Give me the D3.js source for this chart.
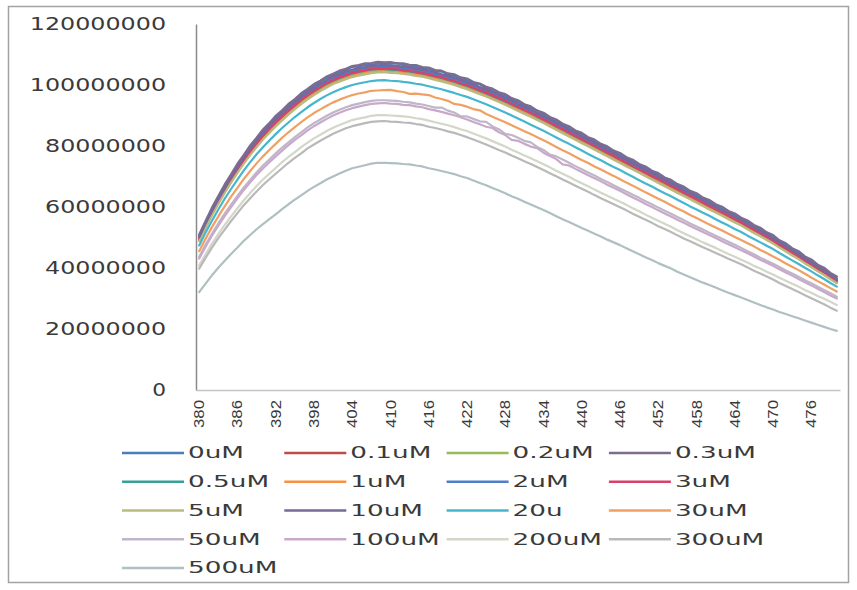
<!DOCTYPE html>
<html><head><meta charset="utf-8">
<script src="https://cdn.jsdelivr.net/npm/d3@7"></script>
<style>
html,body{margin:0;padding:0;background:#fff;}
svg{display:block;}
</style></head><body>
<svg id="chart" width="857" height="590"></svg>
<script>
// ---------- data ----------
const wavelengths = [380,381,382,383,384,385,386,387,388,389,
390,391,392,393,394,395,396,397,398,399,
400,401,402,403,404,405,406,407,408,409,
410,411,412,413,414,415,416,417,418,419,
420,421,422,423,424,425,426,427,428,429,
430,431,432,433,434,435,436,437,438,439,
440,441,442,443,444,445,446,447,448,449,
450,451,452,453,454,455,456,457,458,459,
460,461,462,463,464,465,466,467,468,469,
470,471,472,473,474,475,476,477,478,479,
480];
const xTickLabels = ["380","386","392","398","404","410","416","422","428","434","440","446","452","458","464","470","476"];
const yTickValues = [0,20000000,40000000,60000000,80000000,100000000,120000000];
const seriesNames = ["0uM","0.1uM","0.2uM","0.3uM","0.5uM","1uM","2uM","3uM","5uM","10uM","20u","30uM","50uM","100uM","200uM","300uM","500uM"];
const seriesColors = ["#4A7EBB","#BE4B48","#98B954","#7D6C8E","#35A19A","#F59342","#4F7FC8","#D8416A","#B8BC80","#76699A","#45B6CE","#EFA062","#BFB6C9","#C9A9C9","#D3D7C8","#B9B9B9","#AFBFC2"];

// values in millions
const v0uM = [50.5,55.0,59.2,63.1,66.8,70.3,73.6,76.7,79.6,82.3,
84.8,87.1,89.3,91.3,93.2,95.0,96.7,98.3,99.7,101.3,
102.2,103.3,104.1,104.9,105.9,106.1,106.5,106.6,107.0,107.1,
106.9,107.2,106.5,106.0,105.9,105.6,105.1,104.6,104.4,103.5,
102.9,102.2,101.5,100.7,100.2,99.1,98.2,97.0,96.4,95.4,
94.4,93.4,92.4,91.6,90.3,89.2,88.1,87.0,85.9,84.8,
83.7,82.6,81.5,80.4,79.3,78.2,77.1,76.0,74.9,73.8,
72.7,71.6,70.5,69.4,68.3,67.2,66.1,65.0,63.9,62.8,
61.7,60.6,59.5,58.4,57.3,56.2,55.0,53.8,52.6,51.4,
50.2,48.8,47.5,46.2,44.9,43.5,42.2,40.8,39.5,38.1,
36.7];
const v0_1uM = [49.9,54.4,58.5,62.4,66.1,69.5,72.8,75.9,78.7,81.5,
83.9,86.2,88.4,90.4,92.2,94.1,95.6,97.4,98.7,100.1,
101.2,102.4,103.1,104.0,104.6,105.2,105.4,106.0,105.9,106.2,
105.8,105.9,105.4,105.4,104.8,104.7,104.0,103.7,103.0,102.6,
101.8,101.3,100.4,99.8,98.8,98.2,97.1,96.4,95.3,94.5,
93.3,92.5,91.3,90.4,89.2,88.3,87.0,86.1,84.8,83.9,
82.6,81.7,80.4,79.5,78.2,77.3,76.1,75.1,73.9,73.0,
71.7,70.8,69.6,68.6,67.4,66.4,65.2,64.2,63.1,62.0,
60.9,59.8,58.7,57.7,56.5,55.5,54.2,53.1,51.9,50.7,
49.5,48.1,46.8,45.6,44.3,42.9,41.6,40.3,39.0,37.6,
36.2];
const v0_2uM = [49.4,53.9,57.9,61.8,65.4,68.8,72.1,75.1,78.0,80.6,
83.1,85.4,87.6,89.5,91.4,93.2,94.8,96.4,97.9,99.1,
100.3,101.5,102.2,103.1,103.7,104.3,104.6,105.1,105.2,105.4,
105.1,105.0,104.6,104.5,104.0,103.8,103.2,102.8,102.2,101.7,
101.0,100.4,99.6,98.9,98.0,97.3,96.3,95.5,94.5,93.6,
92.5,91.6,90.5,89.5,88.4,87.4,86.3,85.2,84.1,83.0,
81.9,80.8,79.7,78.6,77.5,76.4,75.3,74.2,73.1,72.0,
70.9,69.8,68.7,67.6,66.5,65.4,64.3,63.2,62.1,61.0,
60.0,58.9,57.8,56.7,55.7,54.6,53.4,52.2,51.1,49.9,
48.7,47.4,46.1,44.9,43.6,42.3,41.0,39.7,38.4,37.1,
35.7];
const v0_3uM = [51.0,55.4,59.8,63.6,67.4,70.7,74.2,77.1,80.2,82.7,
85.4,87.5,89.9,91.7,93.8,95.4,97.3,98.7,100.3,101.4,
102.8,103.7,104.7,105.3,106.2,106.5,107.1,107.2,107.6,107.4,
107.5,107.1,107.1,106.6,106.5,105.9,105.7,104.9,104.7,103.8,
103.5,102.5,102.1,101.0,100.5,99.4,98.8,97.6,97.0,95.7,
95.0,93.7,93.0,91.6,90.9,89.5,88.7,87.3,86.5,85.1,
84.3,82.9,82.1,80.7,79.9,78.5,77.7,76.3,75.5,74.1,
73.3,71.9,71.1,69.7,68.9,67.5,66.7,65.3,64.5,63.1,
62.3,60.9,60.1,58.7,57.9,56.5,55.6,54.1,53.2,51.7,
50.8,49.1,48.1,46.5,45.5,43.8,42.8,41.1,40.1,38.4,
37.2];
const v0_5uM = [49.3,53.7,57.8,61.6,65.2,68.6,71.9,74.9,77.7,80.4,
82.8,85.1,87.2,89.2,91.1,92.9,94.5,96.1,97.5,98.8,
100.0,101.1,101.9,102.7,103.5,103.9,104.4,104.8,104.9,105.0,
104.8,104.7,104.4,104.2,103.8,103.5,103.0,102.5,102.0,101.4,
100.8,100.1,99.4,98.6,97.8,97.0,96.1,95.2,94.3,93.3,
92.3,91.3,90.3,89.3,88.3,87.2,86.1,85.0,83.9,82.8,
81.7,80.6,79.5,78.4,77.3,76.3,75.2,74.1,73.0,71.9,
70.8,69.7,68.6,67.5,66.4,65.4,64.3,63.2,62.1,61.0,
59.9,58.8,57.8,56.7,55.6,54.5,53.3,52.2,51.0,49.8,
48.6,47.3,46.0,44.7,43.4,42.1,40.8,39.4,38.2,36.8,
35.4];
const v1uM = [49.0,53.4,57.5,61.3,64.9,68.2,71.5,74.5,77.3,79.9,
82.4,84.6,86.8,88.7,90.6,92.4,94.1,95.7,97.1,98.3,
99.6,100.6,101.5,102.3,103.0,103.5,103.9,104.3,104.5,104.5,
104.3,104.2,103.9,103.7,103.3,103.0,102.5,102.0,101.5,100.9,
100.3,99.6,98.9,98.1,97.3,96.5,95.6,94.7,93.8,92.8,
91.9,90.9,89.9,88.8,87.8,86.7,85.6,84.5,83.4,82.3,
81.2,80.2,79.1,78.0,76.9,75.8,74.7,73.6,72.5,71.5,
70.4,69.3,68.2,67.1,66.0,64.9,63.8,62.8,61.7,60.6,
59.5,58.4,57.4,56.3,55.2,54.1,53.0,51.8,50.6,49.4,
48.3,46.9,45.6,44.4,43.1,41.7,40.5,39.1,37.9,36.5,
35.2];
const v2uM = [49.8,54.2,58.4,62.2,65.9,69.3,72.6,75.7,78.5,81.2,
83.7,85.9,88.2,90.1,92.1,93.8,95.6,97.1,98.6,99.8,
101.1,102.1,103.0,103.7,104.5,104.9,105.4,105.7,105.9,105.9,
105.8,105.6,105.4,105.1,104.8,104.4,104.0,103.4,103.0,102.3,
101.8,101.0,100.4,99.5,98.8,97.9,97.1,96.1,95.3,94.2,
93.3,92.2,91.3,90.1,89.2,88.0,87.0,85.8,84.8,83.6,
82.6,81.4,80.4,79.2,78.2,77.0,76.0,74.8,73.8,72.6,
71.6,70.4,69.4,68.2,67.2,66.0,65.0,63.8,62.8,61.6,
60.6,59.4,58.4,57.2,56.2,55.0,53.9,52.6,51.5,50.2,
49.1,47.7,46.5,45.2,44.0,42.6,41.4,40.0,38.8,37.4,
36.1];
const v3uM = [49.6,54.0,58.1,61.9,65.6,69.0,72.2,75.3,78.2,80.8,
83.3,85.6,87.7,89.7,91.6,93.3,95.1,96.6,98.1,99.3,
100.6,101.6,102.5,103.2,104.0,104.4,104.9,105.2,105.4,105.4,
105.3,105.1,104.9,104.6,104.3,103.9,103.5,102.9,102.5,101.8,
101.3,100.5,99.9,99.1,98.3,97.5,96.6,95.7,94.8,93.8,
92.8,91.8,90.8,89.8,88.7,87.7,86.5,85.5,84.4,83.3,
82.2,81.1,80.0,78.9,77.8,76.7,75.6,74.5,73.4,72.3,
71.2,70.1,69.1,68.0,66.9,65.8,64.7,63.6,62.5,61.4,
60.3,59.3,58.2,57.1,56.0,54.9,53.7,52.5,51.4,50.2,
49.0,47.6,46.4,45.1,43.8,42.4,41.1,39.7,38.5,37.1,
35.7];
const v5uM = [48.8,53.2,57.3,61.0,64.6,68.0,71.2,74.2,77.0,79.6,
82.1,84.3,86.4,88.4,90.3,92.1,93.7,95.3,96.7,98.0,
99.2,100.3,101.1,101.9,102.6,103.1,103.5,103.9,104.1,104.2,
104.0,103.9,103.6,103.4,103.0,102.7,102.2,101.7,101.2,100.6,
100.0,99.3,98.6,97.8,97.0,96.2,95.3,94.4,93.5,92.5,
91.5,90.5,89.6,88.5,87.5,86.4,85.3,84.2,83.1,82.0,
80.9,79.9,78.8,77.7,76.6,75.5,74.4,73.3,72.3,71.2,
70.1,69.0,67.9,66.8,65.7,64.6,63.6,62.5,61.4,60.3,
59.2,58.2,57.1,56.0,54.9,53.9,52.7,51.5,50.4,49.2,
48.0,46.7,45.4,44.1,42.9,41.5,40.3,38.9,37.7,36.3,
35.0];
const v10uM = [50.1,54.6,58.6,62.6,66.2,69.8,73.0,76.2,79.0,81.8,
84.2,86.6,88.7,90.8,92.6,94.5,96.1,97.8,99.1,100.6,
101.6,102.9,103.5,104.5,105.0,105.7,105.9,106.5,106.4,106.7,
106.3,106.4,105.9,105.9,105.3,105.2,104.5,104.2,103.5,103.1,
102.3,101.8,100.9,100.3,99.3,98.7,97.6,96.9,95.8,95.0,
93.8,93.0,91.8,90.9,89.7,88.8,87.5,86.6,85.3,84.4,
83.1,82.2,80.9,80.0,78.7,77.8,76.5,75.6,74.3,73.4,
72.1,71.2,69.9,69.0,67.7,66.8,65.5,64.6,63.3,62.4,
61.1,60.2,58.9,58.0,56.7,55.8,54.4,53.4,52.0,51.0,
49.6,48.4,46.9,45.8,44.3,43.1,41.6,40.4,38.9,37.7,
36.2];
const v20u = [47.4,51.6,55.5,59.2,62.7,65.9,69.0,72.0,74.7,77.3,
79.6,81.8,83.9,85.9,87.7,89.5,91.1,92.7,94.1,95.4,
96.6,97.6,98.5,99.3,100.0,100.5,100.9,101.3,101.5,101.6,
101.4,101.3,101.0,100.8,100.4,100.1,99.6,99.1,98.6,98.0,
97.4,96.7,96.1,95.3,94.5,93.7,92.8,91.9,91.0,90.0,
89.0,88.0,87.0,86.0,85.0,83.9,82.8,81.7,80.7,79.6,
78.5,77.4,76.3,75.3,74.2,73.1,72.1,71.0,69.9,68.8,
67.7,66.7,65.6,64.5,63.5,62.4,61.3,60.2,59.2,58.1,
57.1,56.0,54.9,53.9,52.8,51.8,50.6,49.5,48.4,47.3,
46.2,44.9,43.7,42.5,41.3,40.1,38.9,37.6,36.4,35.1,
33.9];
const v30uM = [45.5,49.6,53.4,56.9,60.2,63.4,66.3,69.2,71.8,74.3,
76.6,78.7,80.7,82.7,84.5,86.2,87.8,89.4,90.8,92.0,
93.2,94.3,95.2,96.0,96.7,97.2,97.6,98.1,98.2,98.3,
98.4,98.0,97.7,97.1,97.2,96.9,96.7,95.9,95.4,94.8,
93.8,93.5,92.9,92.1,91.7,90.5,89.6,88.7,87.8,86.8,
85.8,84.8,83.9,82.9,81.9,80.8,79.7,78.6,77.6,76.5,
75.4,74.4,73.3,72.3,71.2,70.2,69.1,68.0,67.0,65.9,
64.8,63.8,62.7,61.7,60.6,59.5,58.5,57.4,56.4,55.3,
54.3,53.3,52.3,51.2,50.2,49.2,48.1,47.1,45.9,44.9,
43.8,42.7,41.5,40.4,39.3,38.1,36.9,35.7,34.6,33.4,
32.3];
const v50uM = [43.7,47.6,51.2,54.6,57.8,60.8,63.6,66.4,68.9,71.3,
73.6,75.6,77.6,79.5,81.2,82.9,84.5,86.1,87.5,88.7,
89.9,91.0,91.9,92.7,93.4,93.9,94.4,94.8,95.0,95.0,
94.9,94.8,94.5,94.3,93.9,93.6,93.1,92.6,92.6,91.6,
91.0,89.8,89.7,88.9,88.1,87.9,86.4,85.5,84.0,83.6,
82.7,81.7,81.2,79.7,78.7,77.2,76.6,75.6,74.5,73.4,
72.4,71.3,70.3,69.2,68.2,67.1,66.1,65.1,64.0,63.0,
61.9,60.9,59.8,58.8,57.8,56.7,55.7,54.6,53.6,52.6,
51.6,50.6,49.6,48.6,47.6,46.6,45.5,44.5,43.4,42.4,
41.4,40.3,39.2,38.2,37.1,36.0,35.0,33.9,32.8,31.7,
30.6];
const v100uM = [43.1,47.0,50.6,53.9,57.0,60.0,62.8,65.6,68.1,70.5,
72.6,74.7,76.6,78.5,80.3,82.0,83.5,85.1,86.5,87.7,
88.9,90.0,90.9,91.7,92.4,92.9,93.4,93.8,94.0,94.1,
93.9,93.8,93.5,93.4,93.0,92.7,92.1,91.7,91.2,90.6,
90.1,89.4,88.7,87.9,87.1,86.3,85.9,84.5,83.6,82.0,
81.7,80.7,79.8,79.3,77.8,76.7,75.7,74.0,73.6,72.5,
71.5,70.4,69.4,68.4,67.3,66.3,65.3,64.2,63.1,62.1,
61.0,60.0,58.9,57.9,56.9,55.8,54.8,53.8,52.8,51.8,
50.8,49.8,48.8,47.8,46.8,45.8,44.8,43.8,42.7,41.7,
40.7,39.6,38.5,37.5,36.4,35.3,34.3,33.2,32.1,31.0,
30.0];
const v200uM = [40.9,44.5,48.0,51.1,54.1,56.9,59.6,62.2,64.6,66.9,
69.0,70.9,72.8,74.7,76.4,78.0,79.6,81.1,82.5,83.7,
84.9,86.0,86.9,87.7,88.5,89.0,89.4,89.9,90.1,90.1,
90.0,89.9,89.7,89.5,89.1,88.8,88.3,87.8,87.3,86.8,
86.2,85.5,84.9,84.1,83.3,82.5,81.6,80.7,79.8,78.8,
77.9,76.9,76.0,75.0,74.0,73.0,71.9,70.9,69.9,68.8,
67.8,66.8,65.7,64.7,63.7,62.7,61.7,60.7,59.6,58.6,
57.5,56.5,55.5,54.5,53.5,52.4,51.4,50.4,49.4,48.4,
47.5,46.6,45.6,44.6,43.7,42.7,41.8,40.7,39.8,38.8,
37.9,36.8,35.8,34.8,33.9,32.8,31.9,30.8,29.9,28.9,
27.9];
const v300uM = [39.8,43.3,46.7,49.8,52.6,55.4,58.0,60.6,62.9,65.1,
67.2,69.1,70.9,72.7,74.5,76.1,77.6,79.2,80.5,81.7,
82.9,84.0,84.9,85.8,86.5,87.0,87.5,87.9,88.1,88.2,
88.0,87.9,87.7,87.6,87.2,86.9,86.3,85.9,85.4,84.8,
84.3,83.6,82.9,82.1,81.3,80.5,79.6,78.7,77.9,76.9,
76.0,75.0,74.1,73.1,72.1,71.1,70.1,69.0,68.0,67.0,
66.0,65.0,63.9,62.9,61.9,60.9,59.9,58.9,57.8,56.8,
55.8,54.8,53.7,52.8,51.8,50.7,49.7,48.8,47.8,46.8,
45.9,44.9,44.0,43.0,42.1,41.2,40.2,39.1,38.2,37.2,
36.2,35.1,34.1,33.1,32.1,31.1,30.1,29.1,28.1,27.0,
26.0];
const v500uM = [32.1,34.9,37.6,40.1,42.4,44.6,46.7,48.9,50.8,52.7,
54.4,56.0,57.6,59.3,60.9,62.4,63.8,65.3,66.6,67.8,
69.0,70.0,71.0,71.9,72.7,73.2,73.7,74.2,74.5,74.5,
74.4,74.3,74.1,74.0,73.6,73.3,72.7,72.3,71.8,71.3,
70.8,70.1,69.5,68.7,67.9,67.1,66.2,65.4,64.5,63.5,
62.7,61.7,60.8,59.9,59.0,58.0,57.0,56.0,55.1,54.1,
53.1,52.2,51.2,50.3,49.3,48.4,47.5,46.5,45.5,44.5,
43.5,42.6,41.6,40.7,39.8,38.8,37.9,37.0,36.1,35.2,
34.4,33.6,32.7,31.9,31.1,30.3,29.5,28.7,27.9,27.1,
26.4,25.6,24.9,24.2,23.5,22.8,22.1,21.4,20.7,20.0,
19.4];
const seriesValues = [v0uM,v0_1uM,v0_2uM,v0_3uM,v0_5uM,v1uM,v2uM,v3uM,v5uM,v10uM,v20u,v30uM,v50uM,v100uM,v200uM,v300uM,v500uM];

// ---------- drawing ----------
const svg = d3.select("#chart");
svg.append("rect").attr("width",857).attr("height",590).attr("fill","#fff");
svg.append("rect").attr("x",8.5).attr("y",6.5).attr("width",840).attr("height",576)
  .attr("fill","#fff").attr("stroke","#a3a3a3").attr("stroke-width",1.5);

const x = d3.scaleBand().domain(wavelengths).range([196,840]).padding(0);
const y = d3.scaleLinear().domain([0,120000000]).range([390,24]);

// Y axis
const gy = svg.append("g").attr("transform","translate(196,0)")
  .call(d3.axisLeft(y).tickValues(yTickValues).tickSize(0).tickSizeOuter(0).tickPadding(30).tickFormat(d3.format("d")));
gy.select(".domain").attr("stroke","#8a8a8a").attr("stroke-width",1.5);
gy.selectAll(".tick text")
  .attr("font-family","DejaVu Sans").attr("font-size",17).attr("fill","#3a3a3a")
  .attr("textLength", d => String(d).length*15.3 - 1.5).attr("lengthAdjust","spacingAndGlyphs");

// X axis
const tickSet = new Set(xTickLabels);
const gx = svg.append("g").attr("transform","translate(0,390)")
  .call(d3.axisBottom(x).tickValues(wavelengths.filter(w => tickSet.has(String(w)))).tickSize(0).tickSizeOuter(0));
gx.select(".domain").attr("stroke","#c4c4c4").attr("stroke-width",1.5);
gx.selectAll(".tick text")
  .attr("transform","rotate(-90)").attr("text-anchor","end")
  .attr("x",-10).attr("y",0).attr("dy","0.36em")
  .attr("font-family","Liberation Sans").attr("font-size",14).attr("fill","#3a3a3a")
  .attr("textLength",28).attr("lengthAdjust","spacingAndGlyphs");

// lines
const line = d3.line()
  .x((d,i) => x(wavelengths[i]) + x.bandwidth()/2)
  .y(d => y(d*1000000));
const gl = svg.append("g");
seriesValues.forEach((vals,k) => {
  gl.append("path").datum(vals).attr("d",line)
    .attr("fill","none").attr("stroke",seriesColors[k]).attr("stroke-width",2.2)
    .attr("stroke-linejoin","round").attr("stroke-linecap","round");
});

// legend
const leg = svg.append("g");
seriesNames.forEach((n,k) => {
  const c = k % 4, r = Math.floor(k/4);
  const lx = 122 + c*162.3, ly = 453 + r*28.75;
  leg.append("line").attr("x1",lx).attr("x2",lx+62).attr("y1",ly).attr("y2",ly)
    .attr("stroke",seriesColors[k]).attr("stroke-width",2.6);
  const t = leg.append("text").attr("x",lx+66).attr("y",ly).attr("dy","0.36em")
    .attr("font-family","DejaVu Sans").attr("font-size",15).attr("fill","#3a3a3a").text(n);
  const w = t.node().getComputedTextLength();
  t.attr("textLength", w*1.75).attr("lengthAdjust","spacingAndGlyphs");
});
</script>
</body></html>
